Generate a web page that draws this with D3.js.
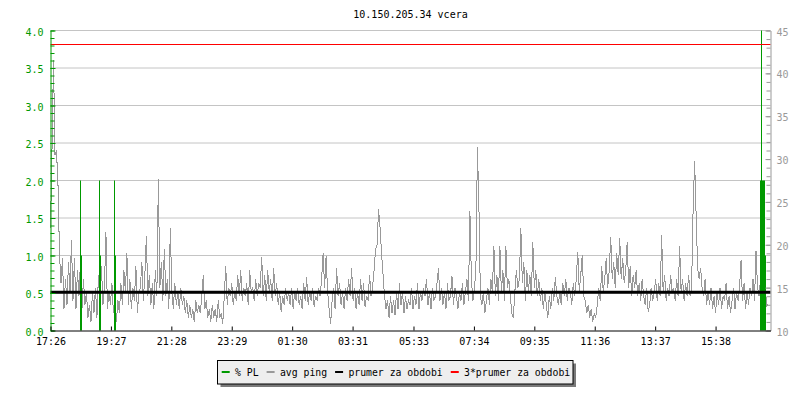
<!DOCTYPE html>
<html>
<head>
<meta charset="utf-8">
<script src="https://cdn.jsdelivr.net/npm/d3@7/dist/d3.min.js"></script>
<style>
  body { margin: 0; background: #fff; }
  svg { display: block; font-family: 'DejaVu Sans Mono', monospace; font-size: 10px; }
</style>
</head>
<body>
<div id="chart"></div>
<script>
// chart data
const title = '10.150.205.34 vcera';
const startLabel = '17:26';
const spanMinutes = 1442;
const tickLabels = ['17:26', '19:27', '21:28', '23:29', '01:30', '03:31',
  '05:33', '07:34', '09:35', '11:36', '13:37', '15:38'];

// avg ping [ms], one sample every 3 minutes (one row = 1 hour)
const pingStep = 3;
const pingValues = [
  22, 31, 41.5, 30.5, 31, 27, 19, 15.5, 18.5, 12.5, 16, 13, 18, 14.5, 20.5, 13.5, 18.5, 12.5, 17, 14,
  18, 12.5, 16, 13, 14.5, 11.5, 13, 11, 14.5, 12, 15, 11.5, 16.5, 12.5, 17.5, 13, 15, 21.5, 12.5, 14.5,
  13, 15.5, 12, 14, 11, 13.5, 12, 15.5, 13, 17, 14.5, 19, 13, 16, 12.5, 15, 13.5, 17.5, 12, 14.5,
  15, 18, 13.5, 16.5, 21, 14, 16.5, 13, 15.5, 12.5, 17, 14, 27.7, 15, 18, 13.5, 19.5, 14, 16, 12.5,
  22, 14.5, 12.5, 15.5, 13, 14.5, 12.5, 15, 13, 14, 12, 13.5, 11.5, 13, 11.5, 12.5, 11, 13.5, 12, 13,
  12, 14, 16.5, 12.5, 13.5, 11.5, 12.5, 11, 13, 11.5, 12.5, 11, 13.5, 11.5, 12, 10.8, 14, 17.5, 13, 15,
  14, 15.5, 13, 14.5, 13.5, 16.5, 14, 17, 13.5, 15, 14, 15.5, 13, 17, 14.5, 15, 13.5, 16, 14, 15.5,
  15, 18.6, 14, 16.5, 13.5, 17, 14.5, 16, 13.5, 17.3, 14, 15.5, 13, 14.5, 12.2, 14, 13, 15, 13.5, 14.5,
  13, 15, 12.5, 14.5, 13.5, 15, 13, 14, 12.5, 15.5, 13.5, 16.2, 13, 14.5, 13.5, 15, 12.8, 14, 13.5, 15,
  14, 16, 19, 15, 18.7, 14.5, 12.5, 10.8, 13.5, 15, 12.5, 17.3, 14, 15.5, 13, 14.5, 12.5, 15, 13.5, 16,
  14, 17.3, 13.5, 15, 12.5, 14.5, 13, 16, 13.5, 15.5, 12.8, 14, 13.5, 16.5, 14, 15, 17, 19.5, 20, 24.2,
  22, 19, 16.5, 14, 12.5, 13.5, 11.5, 14, 12, 13.5, 11.8, 14.5, 12.5, 15.5, 13, 14.5, 12, 14, 12.5, 13.5,
  13, 15, 12.5, 14, 13, 15.5, 12.5, 14.5, 13.5, 15, 14, 16, 13, 14.5, 12.5, 15, 13.5, 14, 15.5, 17.3,
  13.5, 15, 13, 14.5, 12.5, 15.5, 13.5, 14, 16.4, 13, 15, 14, 12.5, 14.5, 13.5, 15.5, 13, 14.5, 16, 13.5,
  23.9, 16, 13.5, 15, 17, 31.4, 24.6, 14, 13, 14.5, 12, 13.5, 15, 13, 16, 14.5, 19.9, 14, 16.5, 13.5,
  19.8, 14.5, 17, 13.5, 19.8, 15, 16, 14, 12, 11.5, 14.5, 17, 15, 16, 21.9, 15.5, 18, 13.5, 17, 14.5,
  16.5, 14, 20.3, 15, 17, 14, 16, 13.5, 15, 12.5, 14.5, 13, 11.5, 14, 12.5, 15, 13.5, 16.2, 14, 13,
  14.5, 13, 15.5, 14, 16, 13.5, 15, 14.5, 13, 15.5, 14, 16, 19.2, 14.5, 16.5, 18.8, 14, 13.5, 12, 13,
  11.5, 12.5, 11, 12, 11.5, 13, 15, 13.5, 17.5, 14.5, 16, 18.5, 15, 17, 20.9, 16, 18, 15, 19, 16.5,
  20.8, 16, 18.5, 15.5, 17, 20.3, 15, 17.5, 14, 16.5, 15, 17, 14, 15.5, 13.5, 16, 14, 13, 15, 12.2,
  13, 15, 13.5, 14.5, 16, 13.5, 15.5, 14, 21.1, 14.5, 16.5, 13.5, 15, 14, 16.5, 14.5, 15, 13.5, 16, 14,
  19.8, 14.5, 16, 13.5, 15.5, 14, 16.5, 14, 15, 24.2, 29.8, 23.6, 17.3, 16, 17.3, 15, 14, 16, 13, 14.5,
  13, 15, 12.5, 14, 12, 14.5, 13, 15, 12.5, 14, 13.5, 15.5, 12.5, 14, 12, 13.5, 15, 12.5, 14.5, 13.5,
  15, 18.2, 13.5, 15.5, 12.5, 14.5, 13, 15, 14, 16, 13.5, 19.3, 15, 14, 16, 17.3, 15, 16.5, 12.7, 13.1
];

// packet loss [%], only the non-zero samples
const plMinutes = [59, 61, 97, 99, 127, 129, 1421, 1423, 1425, 1427, 1429, 1431];
const plValues = [2.0, 1.0, 2.0, 1.0, 2.0, 1.0, 2.0, 4.0, 2.0, 2.0, 2.0, 1.0];

const avgPing = 14.47;

const legendLabels = ['% PL', 'avg ping', 'prumer za obdobi', '3*prumer za obdobi'];
const legendColors = ['#009900', '#999999', '#000000', '#ff0000'];

const width = 800,
  height = 400,
  margin = { top: 30.5, left: 50.5, right: 29.5, bottom: 69.5 },
  green = '#009900',
  grey = '#999999',
  gridColor = '#c4c4c4';

let svg = d3.select('#chart')
  .append('svg')
  .attr('width', width)
  .attr('height', height);

// scales
let x = d3.scaleLinear()
  .domain([0, spanMinutes])
  .range([margin.left, width - margin.right]);

let yPl = d3.scaleLinear()
  .domain([0, 4])
  .range([height - margin.bottom, margin.top]);

let yPing = d3.scaleLinear()
  .domain([10, 45])
  .range([height - margin.bottom, margin.top]);

function toMinutes(s) {
  let p = s.split(':');
  return +p[0] * 60 + +p[1];
}
let tickMinutes = tickLabels.map(l => (toMinutes(l) - toMinutes(startLabel) + 1440) % 1440);

// horizontal grid
svg.append('g')
  .selectAll('line')
  .data(d3.range(0.5, 4.01, 0.5))
  .join('line')
  .attr('x1', x(0))
  .attr('x2', x(spanMinutes))
  .attr('y1', d => yPl(d))
  .attr('y2', d => yPl(d))
  .attr('stroke', gridColor);

// avg ping, drawn without antialiasing like rrdtool does
svg.append('path')
  .datum(pingValues)
  .attr('fill', 'none')
  .attr('stroke', grey)
  .attr('stroke-width', 1)
  .attr('shape-rendering', 'crispEdges')
  .attr('d', d3.line()
    .x((d, i) => x(i * pingStep))
    .y(d => yPing(d)));

// packet loss spikes
svg.append('g')
  .selectAll('line')
  .data(plMinutes)
  .join('line')
  .attr('x1', d => Math.round(x(d)) + 0.5)
  .attr('x2', d => Math.round(x(d)) + 0.5)
  .attr('y1', yPl(0))
  .attr('y2', (d, i) => yPl(plValues[i]))
  .attr('stroke', green)
  .attr('stroke-width', 1);

// average and 3*average
svg.append('line')
  .attr('x1', x(0))
  .attr('x2', x(spanMinutes))
  .attr('y1', yPing(avgPing))
  .attr('y2', yPing(avgPing))
  .attr('stroke', '#000')
  .attr('stroke-width', 3);

svg.append('line')
  .attr('x1', x(0))
  .attr('x2', x(spanMinutes))
  .attr('y1', Math.round(yPing(3 * avgPing)) + 0.5)
  .attr('y2', Math.round(yPing(3 * avgPing)) + 0.5)
  .attr('stroke', '#ff0000')
  .attr('stroke-width', 1);

// left axis (packet loss), ticks pointing inward
svg.append('g')
  .attr('transform', 'translate(' + margin.left + ',0)')
  .call(d3.axisLeft(yPl).tickValues(d3.range(0, 41).map(d => d / 10)).tickSize(-4).tickFormat(''))
  .call(g => g.select('.domain').remove())
  .selectAll('line').attr('stroke', green);

let leftAxis = svg.append('g')
  .attr('transform', 'translate(' + margin.left + ',0)')
  .call(d3.axisLeft(yPl).tickValues(d3.range(0, 4.01, 0.5)).tickSize(-5).tickSizeOuter(0)
    .tickPadding(7).tickFormat(d3.format('.1f')));
leftAxis.attr('font-family', null).attr('font-size', null);
leftAxis.selectAll('line, path').attr('stroke', green);
leftAxis.selectAll('text').attr('fill', green).attr('dy', '0.45em');

// right axis (ping)
svg.append('g')
  .attr('transform', 'translate(' + (width - margin.right) + ',0)')
  .call(d3.axisRight(yPing).tickValues(d3.range(10, 46, 1)).tickSize(-4).tickFormat(''))
  .call(g => g.select('.domain').remove())
  .selectAll('line').attr('stroke', grey);

let rightAxis = svg.append('g')
  .attr('transform', 'translate(' + (width - margin.right) + ',0)')
  .call(d3.axisRight(yPing).tickValues(d3.range(10, 46, 5)).tickSize(-5).tickSizeOuter(0)
    .tickPadding(6));
rightAxis.attr('font-family', null).attr('font-size', null);
rightAxis.selectAll('line, path').attr('stroke', grey);
rightAxis.selectAll('text').attr('fill', grey).attr('dy', '0.45em');

// time axis
let xAxis = svg.append('g')
  .attr('transform', 'translate(0,' + (height - margin.bottom) + ')')
  .call(d3.axisBottom(x).tickValues(tickMinutes).tickSize(-4).tickSizeOuter(0)
    .tickPadding(7).tickFormat((d, i) => tickLabels[i]));
xAxis.attr('font-family', null).attr('font-size', null);
xAxis.selectAll('line, path').attr('stroke', '#000');
xAxis.selectAll('text').attr('fill', '#000');

// title
svg.append('text')
  .attr('x', (x(0) + x(spanMinutes)) / 2)
  .attr('y', 17.5)
  .attr('text-anchor', 'middle')
  .attr('fill', '#000')
  .text(title);

// legend box with shadow
let legendX = 217.5, legendY = 360.5, legendW = 355.5, legendH = 23.5;
svg.append('rect')
  .attr('x', legendX + 3)
  .attr('y', legendY + 3)
  .attr('width', legendW)
  .attr('height', legendH)
  .attr('fill', '#7a7a7a');
svg.append('rect')
  .attr('x', legendX)
  .attr('y', legendY)
  .attr('width', legendW)
  .attr('height', legendH)
  .attr('fill', '#eeeeee')
  .attr('stroke', '#000');

let lx = 221.7;
legendLabels.forEach((label, i) => {
  svg.append('line')
    .attr('x1', lx)
    .attr('x2', lx + 8)
    .attr('y1', 372)
    .attr('y2', 372)
    .attr('stroke', legendColors[i])
    .attr('stroke-width', 2);
  let t = svg.append('text')
    .attr('x', lx + 13.3)
    .attr('y', 376)
    .attr('font-size', '9.8px')
    .attr('fill', '#000')
    .text(label);
  lx += 13.3 + t.node().getComputedTextLength() + 8;
});
</script>
</body>
</html>
